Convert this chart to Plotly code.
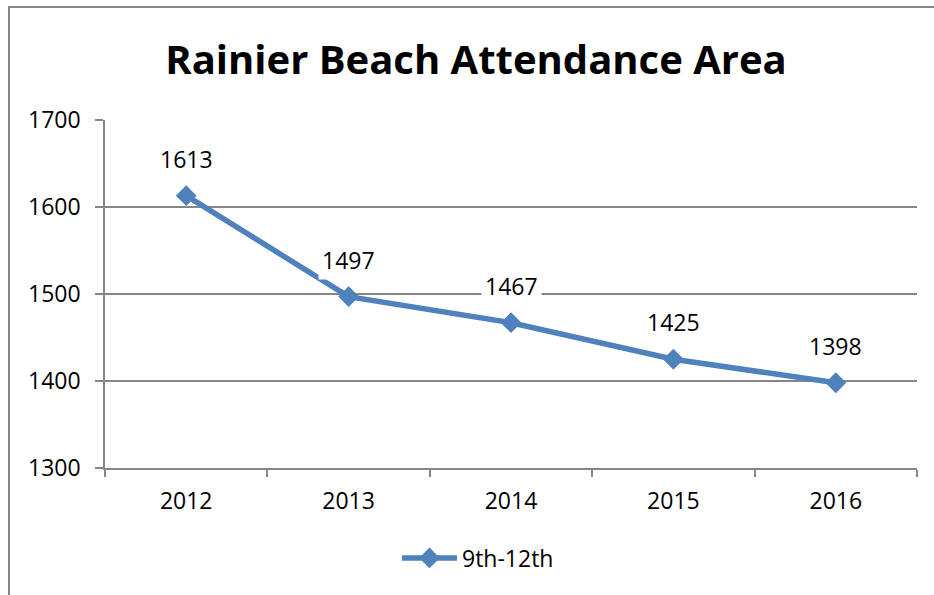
import plotly.graph_objects as go

years = ["2012", "2013", "2014", "2015", "2016"]
values = [1613, 1497, 1467, 1425, 1398]
series_name = "9th-12th"
title_text = "Rainier Beach Attendance Area"
y_ticks = [1300, 1400, 1500, 1600, 1700]

W, H = 934, 595
# plot area in page coordinates (body margin removed)
SL, SR, ST, SB = 105, 917, 120, 468
L, T, R, B = SL, ST, W - SR, H - SB
pw, ph = W - L - R, H - T - B

def px_x(sx):
    return (sx - L) / pw

def px_y(sy):
    return (H - B - sy) / ph

blue = "#4F81BD"
grid = "#868686"
font = "Open Sans"

fig = go.Figure()
fig.add_trace(go.Scatter(
    x=years, y=values, name=series_name, mode="lines+markers",
    line=dict(color=blue, width=5.5),
    marker=dict(symbol="diamond", size=16, color=blue),
    cliponaxis=False,
))

for i, yv in enumerate(values):
    fig.add_annotation(
        x=i, y=yv, xref="x", yref="y", text=str(yv), showarrow=False,
        yshift=37, bgcolor="white", borderpad=3,
        font=dict(family=font, size=23, color="black"),
    )

fig.add_shape(type="rect", xref="paper", yref="paper",
              x0=px_x(9), x1=px_x(980), y0=px_y(640), y1=px_y(7),
              line=dict(color=grid, width=2), fillcolor="rgba(0,0,0,0)", layer="below")

fig.update_layout(
    width=W, height=H,
    margin=dict(l=L, r=R, t=T, b=B, autoexpand=False),
    paper_bgcolor="white", plot_bgcolor="white",
    title=dict(text="<b>" + title_text + "</b>", x=px_x(476), xref="paper", xanchor="center",
               y=1 - 60 / H, yref="container", yanchor="middle",
               font=dict(family=font, size=40, color="black")),
    showlegend=True,
    legend=dict(orientation="h", x=px_x(478), xanchor="center", y=px_y(558), yanchor="middle",
                font=dict(family=font, size=23, color="black"), itemwidth=55),
    xaxis=dict(type="category", range=[-0.5, 4.5], showgrid=False, showline=True,
               linecolor=grid, linewidth=1.5, ticks="outside", tickson="boundaries",
               ticklen=7, tickcolor=grid, tickwidth=1.5, automargin=False,
               tickfont=dict(family=font, size=23, color="black"), ticklabelstandoff=12),
    yaxis=dict(range=[1300, 1700], tickvals=y_ticks, showgrid=True, gridcolor=grid, gridwidth=1.5,
               showline=True, linecolor=grid, linewidth=1.5, ticks="outside", ticklen=8,
               tickcolor=grid, tickwidth=1.5, zeroline=False, automargin=False,
               tickfont=dict(family=font, size=23, color="black"), ticklabelstandoff=10),
)

fig.write_html("out.html", config={"displayModeBar": False},
               post_script="document.body.style.margin='0';document.body.style.overflow='hidden';")
